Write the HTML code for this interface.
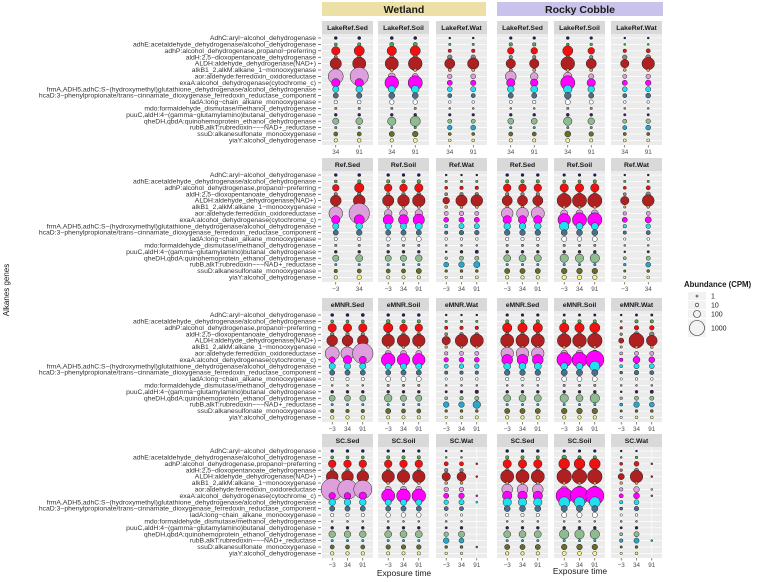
<!DOCTYPE html>
<html><head><meta charset="utf-8"><style>
html,body{margin:0;padding:0;background:#fff}
svg{display:block;font-family:"Liberation Sans",sans-serif}
</style></head><body>
<svg id="chart" width="764" height="582" viewBox="0 0 764 582" xmlns="http://www.w3.org/2000/svg"></svg>
<script>
const genes=["AdhC:aryl−alcohol_dehydrogenase","adhE:acetaldehyde_dehydrogenase/alcohol_dehydrogenase","adhP:alcohol_dehydrogenase,propanol−preferring","aldH:2,5−dioxopentanoate_dehydrogenase","ALDH:aldehyde_dehydrogenase(NAD+)","alkB1_2,alkM:alkane_1−monooxygenase","aor:aldehyde:ferredoxin_oxidoreductase","exaA:alcohol_dehydrogenase(cytochrome_c)","frmA,ADH5,adhC:S−(hydroxymethyl)glutathione_dehydrogenase/alcohol_dehydrogenase","hcaD:3−phenylpropionate/trans−cinnamate_dioxygenase_ferredoxin_reductase_component","ladA:long−chain_alkane_monooxygenase","mdo:formaldehyde_dismutase/methanol_dehydrogenase","puuC,aldH:4−(gamma−glutamylamino)butanal_dehydrogenase","qheDH,qbdA:quinohemoprotein_ethanol_dehydrogenase","rubB,alkT:rubredoxin−−−NAD+_reductase","ssuD:alkanesulfonate_monooxygenase","yiaY:alcohol_dehydrogenase"];
const geneColors=["#1c1c6e","#4cb050","#f01010","#8a8a8a","#b02020","#d8a060","#dda0dd","#ff00ff","#20e0ee","#4a708b","#ffffff","#909090","#3a1f5a","#8fbc8f","#2aa6cc","#6b6b2a","#f4f490"];
const habitats=["Wetland","Rocky Cobble"];
const siteRows=["LakeRef","Ref","eMNR","SC"];
const media=["Sed","Soil","Wat"];
const legendValues=[1,10,100,1000];
const times={
"W|LakeRef|Sed":["34","91"],"W|LakeRef|Soil":["34","91"],"W|LakeRef|Wat":["34","91"],
"R|LakeRef|Sed":["34","91"],"R|LakeRef|Soil":["34","91"],"R|LakeRef|Wat":["34","91"],
"W|Ref|Sed":["−3","34"],"W|Ref|Soil":["−3","34","91"],"W|Ref|Wat":["−3","34","91"],
"R|Ref|Sed":["−3","34","91"],"R|Ref|Soil":["−3","34","91"],"R|Ref|Wat":["−3","34"],
"W|eMNR|Sed":["−3","34","91"],"W|eMNR|Soil":["−3","34","91"],"W|eMNR|Wat":["−3","34","91"],
"R|eMNR|Sed":["−3","34","91"],"R|eMNR|Soil":["−3","34","91"],"R|eMNR|Wat":["−3","34","91"],
"W|SC|Sed":["−3","34","91"],"W|SC|Soil":["−3","34","91"],"W|SC|Wat":["−3","34","91"],
"R|SC|Sed":["−3","34","91"],"R|SC|Soil":["−3","34","91"],"R|SC|Wat":["−3","34","91"]};
const abundance={
"W|LakeRef|Sed":[[4,5,150,8,350,4,1000,150,60,30,10,2,4,60,2,15,10],[5,8,250,10,600,5,1500,150,80,35,12,2,4,90,2,15,12]],
"W|LakeRef|Soil":[[5,15,200,15,600,5,100,700,100,50,20,2,4,150,2,30,10],[5,15,250,15,700,5,50,800,120,50,20,2,4,250,2,40,15]],
"W|LakeRef|Wat":[[1,2,8,20,250,5,20,30,25,15,3,1,3,15,20,5,4],[1,2,10,20,350,5,25,35,30,15,3,1,3,15,25,5,4]],
"R|LakeRef|Sed":[[3,10,80,10,200,5,300,150,80,30,5,1,4,50,2,15,8],[3,10,80,10,200,5,120,120,100,30,10,1,4,50,2,15,8]],
"R|LakeRef|Soil":[[4,3,250,10,700,5,150,800,150,80,30,2,5,150,2,50,15],[3,3,80,10,250,5,30,150,80,30,15,2,4,80,2,20,8]],
"R|LakeRef|Wat":[[1,1,10,20,150,4,15,30,25,15,3,1,2,15,15,6,5],[1,1,15,25,500,4,20,40,30,25,3,1,2,20,25,6,5]],
"W|Ref|Sed":[[4,4,80,8,300,4,700,150,60,30,8,2,4,60,2,10,10],[5,8,200,10,400,4,2000,250,80,40,10,2,4,100,2,15,20]],
"W|Ref|Soil":[[4,8,120,10,350,4,120,250,60,30,15,2,4,60,2,15,8],[4,8,120,10,400,4,120,250,60,30,15,2,4,60,2,15,8],[4,10,150,12,500,4,120,350,100,30,25,2,4,80,2,30,8]],
"W|Ref|Wat":[[1,2,5,5,80,4,15,25,10,8,3,1,1,3,25,3,2],[1,2,10,10,350,4,20,30,30,20,3,1,4,15,40,4,3],[1,2,10,10,400,4,15,30,30,20,3,1,8,15,60,4,5]],
"R|Ref|Sed":[[4,8,120,10,250,4,400,150,80,40,8,2,4,100,2,30,10],[4,8,120,10,250,4,400,150,80,40,8,2,4,100,2,30,10],[4,8,120,10,250,4,600,150,80,40,8,2,4,100,2,30,10]],
"R|Ref|Soil":[[3,5,150,10,800,4,100,500,200,50,30,2,4,150,2,40,20],[3,5,150,10,800,4,100,800,100,50,20,2,4,150,2,40,20],[3,8,150,10,800,4,100,800,100,50,25,2,4,200,2,40,20]],
"R|Ref|Wat":[[1,2,5,5,150,2,10,30,10,8,2,1,1,5,3,2,2],[1,2,15,20,400,3,15,60,20,15,3,1,2,15,25,4,4]],
"W|eMNR|Sed":[[5,5,150,10,300,4,800,50,60,30,8,1,4,50,2,10,10],[5,5,150,10,300,4,600,150,60,30,8,1,4,50,2,10,10],[6,5,150,10,300,4,2000,100,60,30,8,1,4,50,2,10,10]],
"W|eMNR|Soil":[[4,12,200,10,500,4,50,700,60,30,25,2,4,120,2,30,8],[4,8,120,10,500,4,50,500,60,30,25,2,4,60,2,15,8],[4,8,120,10,500,4,50,500,60,30,25,2,4,60,2,15,8]],
"W|eMNR|Wat":[[1,2,8,5,150,3,10,20,15,8,2,1,2,5,40,3,2],[1,2,10,10,500,3,15,25,20,10,3,1,4,10,40,4,4],[1,2,10,10,600,3,15,25,20,10,3,1,10,15,120,4,8]],
"R|eMNR|Sed":[[3,8,200,10,600,4,500,300,100,40,8,1,4,100,2,30,10],[3,8,200,10,600,4,500,300,100,40,8,1,4,100,2,30,10],[3,8,200,10,600,4,500,300,100,40,8,1,4,100,2,30,10]],
"R|eMNR|Soil":[[2,8,200,12,700,4,80,900,100,60,25,2,4,150,2,40,10],[2,8,200,12,700,4,80,1000,100,60,25,2,4,100,2,40,10],[2,8,250,12,900,4,80,1500,250,60,25,2,4,200,2,40,10]],
"R|eMNR|Wat":[[1,1,3,3,30,2,5,10,5,4,2,1,1,3,5,2,2],[2,8,20,30,1000,4,15,100,30,20,3,1,4,15,40,4,4],[2,8,20,20,300,4,15,50,25,15,3,1,8,15,25,4,4]],
"W|SC|Sed":[[4,5,120,10,400,4,2500,80,80,30,8,1,4,80,2,15,10],[4,5,120,10,400,4,1800,80,80,30,8,1,4,80,2,15,10],[4,5,120,10,400,4,1500,120,80,30,8,1,4,80,2,15,10]],
"W|SC|Soil":[[3,8,120,10,500,4,60,600,60,30,20,1,4,100,2,20,8],[3,8,120,10,500,4,60,700,60,30,20,1,4,100,2,20,8],[3,8,120,10,500,4,60,700,60,30,20,1,4,100,2,20,8]],
"W|SC|Wat":[[1,1,15,10,150,4,20,30,20,15,2,1,2,20,40,4,3],[1,1,15,10,180,4,20,40,30,15,2,1,4,60,25,4,3],[0,0,1,0,1,0,0,1,1,0,0,0,0,0,0,1,0]],
"R|SC|Sed":[[4,8,150,10,600,4,300,200,150,50,8,1,4,100,2,30,10],[4,8,150,10,600,4,300,200,150,50,8,1,4,100,2,30,10],[4,8,150,10,600,4,300,200,150,50,8,1,4,100,2,30,10]],
"R|SC|Soil":[[3,20,300,10,900,4,100,1200,300,60,30,1,4,200,2,40,15],[3,8,300,10,900,4,100,1500,300,60,30,1,4,200,2,40,15],[3,8,300,10,900,4,100,1500,300,60,30,1,4,200,2,40,15]],
"R|SC|Wat":[[1,1,5,3,60,3,10,15,8,5,2,1,2,5,10,2,2],[1,3,25,15,500,4,40,50,25,20,3,1,4,30,30,4,4],[0,0,1,0,1,0,1,1,0,0,0,0,0,0,1,0,0]]};

const NS="http://www.w3.org/2000/svg";
const svg=document.getElementById("chart");
function mk(tag,attrs,parent){const e=document.createElementNS(NS,tag);for(const k in attrs)e.setAttribute(k,attrs[k]);(parent||svg).appendChild(e);return e;}
function rScale(v){
  const l=Math.log10(v);const pts=[[0,1],[1,1.8],[2,3.5],[3,7.5]];
  if(l<=0)return 1; if(l>=3)return 7.5+(l-3)*9;
  for(let i=0;i<3;i++){if(l<=pts[i+1][0]){const t=(l-pts[i][0]);return pts[i][1]+t*(pts[i+1][1]-pts[i][1]);}}
}
const rowTops=[34,171,311,447];const panelH=111;
const panelX={W:[322,378,436],R:[497,554,611]};const panelW=51;
function yScale(top,i){return top+4+i*6.4;}
function xScale(px,n,j){const f=n===2?[0.27,0.73]:[0.2,0.5,0.8];return px+f[j]*panelW;}

[["Wetland",322,486,"#ede0a6"],["Rocky Cobble",497,663,"#c9c2ea"]].forEach((h,k)=>{
  const g=mk("g",{});
  mk("rect",{x:h[1],y:2,width:h[2]-h[1],height:14,fill:h[3]},g);
  const t=mk("text",{x:(h[1]+h[2])/2,y:13,"text-anchor":"middle","font-size":"10.5","font-weight":"bold",fill:"#1a1a1a"},g);t.textContent=h[0];
});

siteRows.forEach((site,ri)=>{
  const top=rowTops[ri];
  genes.forEach((gname,i)=>{
    const y=yScale(top,i);
    const t=mk("text",{x:0,y:0,transform:"translate(316,"+(y+2.1)+") scale(1.1,1)","text-anchor":"end","font-size":"6.2",fill:"#333"});
    
    t.textContent=gname;
    mk("line",{x1:318,x2:321,y1:y,y2:y,stroke:"#333","stroke-width":"0.6"});
  });
  ["W","R"].forEach(hab=>{
    media.forEach((m,mi)=>{
      const key=hab+"|"+site+"|"+m;const px=panelX[hab][mi];
      const g=mk("g",{});
      
      
      mk("rect",{x:px,y:top-13,width:panelW,height:13,fill:"#d9d9d9"},g);
      const st=mk("text",{x:px+panelW/2,y:top-4,"text-anchor":"middle","font-size":"6.8","font-weight":"bold",fill:"#1a1a1a"},g);
      
      st.textContent=site+"."+m;
      mk("rect",{x:px,y:top,width:panelW,height:panelH,fill:"#ebebeb"},g);
      const tl=times[key];const n=tl.length;
      genes.forEach((_,i)=>mk("line",{x1:px,x2:px+panelW,y1:yScale(top,i),y2:yScale(top,i),stroke:"#fff","stroke-width":"0.7"},g));
      tl.forEach((tv,j)=>{
        const x=xScale(px,n,j);
        mk("line",{x1:x,x2:x,y1:top,y2:top+panelH,stroke:"#fff","stroke-width":"0.7"},g);
        mk("line",{x1:x,x2:x,y1:top+panelH,y2:top+panelH+2.5,stroke:"#333","stroke-width":"0.6"},g);
        const tt=mk("text",{x:x,y:top+panelH+9,"text-anchor":"middle","font-size":"6.3",fill:"#4d4d4d"},g);
        
        tt.textContent=tv;
      });
      const vals=abundance[key];
      vals.forEach((col,j)=>{
        const x=xScale(px,n,j);
        col.forEach((v,i)=>{
          if(!(v>0))return;
          const c=mk("circle",{cx:x,cy:yScale(top,i),r:rScale(v),fill:geneColors[i],stroke:"#222","stroke-width":"0.5"},g);
          
          
        });
      });
    });
  });
});
const yt=mk("text",{x:0,y:0,transform:"translate(9,290) rotate(-90)","text-anchor":"middle","font-size":"8",fill:"#1a1a1a"});
yt.textContent="Alkanes genes";
[[404,576],[580,574]].forEach(p=>{const t=mk("text",{x:p[0],y:p[1],"text-anchor":"middle","font-size":"8.5",fill:"#1a1a1a"});
t.textContent="Exposure time";});
const lg=mk("g",{});
const lt=mk("text",{x:684,y:287,"font-size":"7.8","font-weight":"bold",fill:"#1a1a1a"},lg);lt.textContent="Abundance (CPM)";
const ly=[296,305,314,328];
legendValues.forEach((v,k)=>{
  mk("rect",{x:688,y:ly[k]-(k===3?9:4),width:18,height:k===3?18:8,fill:"#f2f2f2"},lg);
  const c=mk("circle",{cx:697,cy:ly[k],r:rScale(v),fill:"none",stroke:"#222","stroke-width":"0.6"},lg);
  
  const t=mk("text",{x:711,y:ly[k]+2.5,"font-size":"7",fill:"#1a1a1a"},lg);t.textContent=v;
});
</script>
</body></html>
